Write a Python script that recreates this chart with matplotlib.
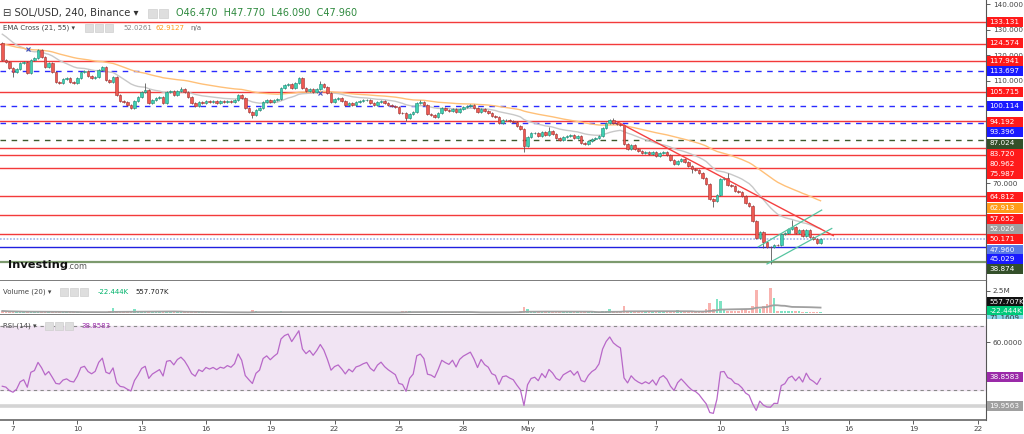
import matplotlib
matplotlib.use('Agg')
import matplotlib.pyplot as plt
from matplotlib.patches import Rectangle
from matplotlib.transforms import Bbox
import numpy as np

# ---------------- data ----------------
first_open = 124.70
closes = [
    # Apr 6 - Apr 18
    118.18, 117.52, 114.91, 113.60, 114.52, 116.87, 117.52, 112.95, 118.18, 118.83,
    122.09, 119.48, 115.56, 116.87, 113.60, 109.69, 109.30, 110.60, 110.99, 109.69,
    109.30, 110.99, 113.60, 114.00, 111.91, 110.99, 111.65, 114.26, 115.56, 110.34,
    109.69, 111.38, 104.46, 102.24, 101.85, 100.55, 99.50, 102.24, 103.81, 105.77,
    106.42, 101.20, 102.50, 103.16, 103.81, 101.20, 105.77, 106.03, 104.46, 106.16,
    106.94, 105.77, 103.81, 101.20, 100.15, 101.85, 101.20, 102.24, 101.72, 102.11,
    101.46, 101.98, 101.72, 102.24, 101.85, 102.50, 104.46, 103.16, 99.24, 97.93,
    96.63, 98.59, 99.24,
    # Apr 18 - May 1
    101.86, 102.52, 101.60, 102.39, 103.04, 107.09, 108.26, 108.78, 107.35, 109.05,
    111.00, 107.09, 105.91, 106.83, 105.65, 106.96, 108.78, 107.48, 105.13, 101.86,
    102.78, 103.17, 101.99, 100.43, 101.47, 100.69, 101.73, 101.99, 102.39, 102.65,
    101.34, 100.69, 101.73, 102.26, 101.34, 100.69, 100.17, 99.64, 97.55, 97.29,
    95.33, 97.16, 97.82, 101.21, 101.60, 100.69, 96.90, 96.64, 95.99, 97.42,
    99.25, 98.73, 98.34, 99.12, 97.68, 99.12, 99.77, 100.17, 100.56, 99.38,
    97.68, 99.12, 98.08, 97.55, 96.12, 95.73, 93.37, 94.55, 94.68, 94.16,
    93.77, 92.46, 91.15, 84.49,
    # May 1 - May 14
    88.15, 89.46, 89.72, 88.54, 89.98, 88.67, 90.37, 89.33, 87.63, 86.98,
    88.02, 88.41, 88.80, 87.63, 88.28, 85.80, 85.41, 86.45, 87.11, 87.50,
    88.41, 91.42, 93.38, 94.68, 93.64, 93.11, 92.72, 85.15, 83.19, 84.76,
    83.32, 82.41, 81.75, 82.14, 81.49, 82.14, 80.45, 81.75, 82.14, 81.10,
    78.88, 77.31, 78.62, 79.27, 78.10, 76.79, 75.61, 75.09, 73.92, 71.96,
    69.74, 63.60, 62.82, 65.30, 71.70, 71.83, 69.35, 68.69, 66.86, 66.34,
    64.77, 62.16, 60.86, 54.98, 48.45, 50.80, 47.01, 45.05, 44.79, 45.71,
    45.58, 50.02, 50.54, 52.11, 52.63, 50.54, 51.58, 49.23, 51.58, 48.97,
    47.93, 46.47, 47.96,
]
# notable wick extremes (candle index -> price)
wick_highs = {0: 125.4, 40: 109.3, 50: 107.7, 83: 111.4, 89: 110.1, 117: 102.6,
              153: 92.1, 171: 95.3, 203: 74.0, 221: 55.5}
wick_lows = {3: 111.6, 70: 95.3, 113: 94.3, 146: 82.3, 193: 74.0, 199: 60.7,
             213: 44.5, 215: 38.4}
volume_m = [
    .25, .20, .18, .20, .14, .12, .12, .16, .14, .12,
    .18, .14, .15, .10, .12, .16, .12, .09, .10, .10,
    .09, .10, .12, .10, .09, .10, .11, .10, .12, .14,
    .30, .55, .22, .25, .14, .12, .12, .44, .18, .15,
    .14, .18, .12, .10, .10, .14, .16, .12, .20, .10,
    .10, .12, .12, .14, .12, .10, .10, .09, .08, .08,
    .07, .08, .07, .08, .07, .08, .07, .10, .09, .14,
    .33, .30, .14, .12, .10, .10, .14, .12, .20, .14,
    .12, .16, .14, .12, .10, .10, .09, .10, .10, .12,
    .14, .12, .10, .09, .08, .10, .09, .08, .09, .08,
    .08, .08, .09, .08, .09, .10, .08, .08, .09, .10,
    .12, .14, .30, .28, .30, .14, .10, .12, .10, .12,
    .12, .10, .09, .10, .08, .09, .08, .10, .09, .08,
    .09, .10, .08, .09, .10, .12, .10, .12, .10, .14,
    .12, .12, .14, .18, .16, .22, .70, .44, .18, .14,
    .12, .14, .12, .10, .12, .10, .14, .12, .10, .12,
    .10, .09, .10, .12, .12, .14, .12, .16, .24, .26,
    .50, .22, .18, .16, .80, .30, .20, .16, .14, .14,
    .14, .12, .12, .14, .12, .12, .14, .18, .22, .33,
    .30, .18, .20, .22, .24, .20, .26, .44, 1.17, .50,
    1.54, 1.36, .40, .30, .28, .26, .30, .44, .44, .30,
    .80, 2.55, .45, .80, 1.00, 2.75, 1.65, .30, .26, .24,
    .22, .24, .20, .26, .16, .14, .12, .12, .10, .10,
]
last_bar_day = 37 + 16 / 24          # days after Apr 7 (May 14, 16:00)
ema_seed = (129.3, 124.7)            # EMA21 / EMA55 values at the left edge
rsi_seed = (1.0, 1.6)                # avg gain / avg loss at the left edge

red_levels = [133.131, 124.574, 117.941, 105.715, 94.192, 83.720, 80.962,
              75.987, 64.812, 57.652, 50.171]
blue_dashed_levels = [113.697, 100.114, 93.396]
green_dashed_levels = [87.024]
blue_levels = [45.029]
green_levels = [38.874]
last_price = 47.960
rsi_hline = 19.9563
price_ticks = [70, 110, 120, 130, 140]

trend_red = ([28.2, 38.26], [93.9, 49.4])
channel_low = ([35.17, 38.19], [38.3, 52.2])
channel_up = ([34.76, 37.72], [45.0, 59.4])
cross_marks = ([0.70, 14.32], [122.5, 105.45])

tick_days = list(range(0, 46, 3))
tick_labels = ['7', '10', '13', '16', '19', '22', '25', '28', 'May', '4', '7',
               '10', '13', '16', '19', '22']

# ---------------- derived series ----------------
N = len(closes)
t = np.array([last_bar_day - (N - 1 - i) / 6 for i in range(N)])
c = np.array(closes)
o = np.concatenate([[first_open], c[:-1]])
hi = np.maximum(o, c) + 0.4
lo = np.minimum(o, c) - 0.4
for k, v in wick_highs.items():
    hi[k] = v
for k, v in wick_lows.items():
    lo[k] = v
up = c >= o

def ema(vals, n, seed):
    a = 2 / (n + 1)
    out, e = [], seed
    for v in vals:
        e = e + a * (v - e)
        out.append(e)
    return np.array(out)

ema21 = ema(c, 21, ema_seed[0])
ema55 = ema(c, 55, ema_seed[1])

ag, al = rsi_seed
rsi = []
prev = first_open
for v in c:
    ch = v - prev
    prev = v
    ag = (ag * 13 + max(ch, 0)) / 14
    al = (al * 13 + max(-ch, 0)) / 14
    rsi.append(100 - 100 / (1 + ag / al))
rsi = np.array(rsi)

vol = np.array(volume_m)
vol_ma = np.array([vol[max(0, i - 19):i + 1].mean() for i in range(N)])

# ---------------- figure ----------------
W, H = 1024, 434
fig = plt.figure(figsize=(W / 100, H / 100), dpi=100)
fig.patch.set_facecolor('white')

def fx(px):
    return px / W

def fy(py):
    return 1 - py / H

PW = 985.7
ax = fig.add_axes([0, fy(281), PW / W, 281 / H])
axv = fig.add_axes([0, fy(315), PW / W, 34 / H])
axr = fig.add_axes([0, fy(420), PW / W, 105 / H])

xlim = (-0.606, 45.37)
for a in (ax, axv, axr):
    a.set_xlim(*xlim)
    a.set_facecolor('white')
    for s in ('top', 'left'):
        a.spines[s].set_visible(False)
    a.spines['right'].set_color('#555555')
    a.spines['bottom'].set_color('#666666')
    a.spines['bottom'].set_linewidth(1.2)
    a.yaxis.tick_right()

# ---- main price panel ----
ax.set_ylim(31.62, 141.68)
for lv in red_levels:
    ax.axhline(lv, color='#ff9090', lw=2.2, alpha=0.28, zorder=1)
    ax.axhline(lv, color='#f23a3a', lw=0.8, zorder=1.1)
for lv in blue_dashed_levels:
    ax.axhline(lv, color='#2a2aff', lw=1.0, dashes=(4, 4), zorder=1.1)
for lv in green_dashed_levels:
    ax.axhline(lv, color='#3d5a2e', lw=1.0, dashes=(4, 4), zorder=1.1)
for lv in blue_levels:
    ax.axhline(lv, color='#2020e0', lw=1.0, zorder=1.1)
for lv in green_levels:
    ax.axhline(lv, color='#7d9a6e', lw=1.6, zorder=1.1)
ax.axhline(last_price, color='#9fb4ea', lw=1.2, ls=(0, (1, 1)), zorder=1.1)

ax.plot(t, ema21, color='#c8c8c8', lw=1.0, zorder=2)
ax.plot(t, ema55, color='#ffc078', lw=1.0, zorder=2)

ax.vlines(t, lo, hi, color='#5a5a5a', lw=0.6, zorder=3)
body_h = np.maximum(np.abs(c - o), 0.15)
ax.bar(t[up], body_h[up], bottom=np.minimum(o, c)[up], width=0.12,
       color='#3fd0b2', edgecolor='#1c8f7a', linewidth=0.4, zorder=4)
ax.bar(t[~up], body_h[~up], bottom=np.minimum(o, c)[~up], width=0.12,
       color='#ee5a52', edgecolor='#a33030', linewidth=0.4, zorder=4)

ax.plot(*trend_red, color='#f44040', lw=1.0, zorder=5)
ax.plot(*channel_low, color='#55c4a0', lw=0.9, zorder=5)
ax.plot(*channel_up, color='#55c4a0', lw=0.9, zorder=5)
ax.plot(*cross_marks, ls='none', marker='x', ms=3, mew=0.8, color='#4050c0', zorder=6)

ax.set_yticks(price_ticks)
ax.set_yticklabels([f'{v:.3f}' for v in price_ticks])
ax.tick_params(axis='y', labelsize=5.2, colors='#444444', length=3, pad=2, width=0.6)
ax.tick_params(axis='x', bottom=False, labelbottom=False)

# ---- volume panel ----
axv.set_ylim(-0.2, 3.58)
axv.bar(t[up], vol[up], width=0.12, color='#7fe3c4', zorder=2)
axv.bar(t[~up], vol[~up], width=0.12, color='#f8b2ae', zorder=2)
axv.plot(t, vol_ma, color='#a0a0a0', lw=1.3, zorder=3)
axv.set_yticks([2.5])
axv.set_yticklabels(['2.5M'])
axv.tick_params(axis='y', labelsize=5.2, colors='#444444', length=3, pad=2, width=0.6)
axv.tick_params(axis='x', bottom=False, labelbottom=False)

# ---- RSI panel ----
axr.set_ylim(10.9, 77.25)
axr.axhspan(30, 70, color='#f1e4f3', zorder=0)
axr.axhline(70, color='#8a8a8a', lw=0.8, dashes=(3, 3), zorder=1)
axr.axhline(30, color='#8a8a8a', lw=0.8, dashes=(3, 3), zorder=1)
axr.axhline(rsi_hline, color='#d4d4d4', lw=2.6, zorder=1)
axr.plot(t, rsi, color='#b868c8', lw=0.9, zorder=3)
axr.set_yticks([60])
axr.set_yticklabels(['60.0000'])
axr.tick_params(axis='y', labelsize=5.2, colors='#444444', length=3, pad=2, width=0.6)
axr.set_xticks(tick_days)
axr.set_xticklabels(tick_labels)
axr.tick_params(axis='x', labelsize=5.2, colors='#444444', length=3, pad=1.5, width=0.6)

# ---------------- right-hand value labels ----------------
def tag(py, text, fc, tc='white', clip=None):
    r = Rectangle((fx(986.5), fy(py + 5)), 36 / W, 10 / H, transform=fig.transFigure,
                  fc=fc, ec='none', zorder=19)
    fig.patches.append(r)
    tx = fig.text(fx(989.5), fy(py), text, fontsize=5.2, color=tc, ha='left',
                  va='center', zorder=20)
    if clip is not None:
        r.set_clip_box(clip)
        r.set_clip_on(True)
        tx.set_clip_box(clip)
        tx.set_clip_on(True)
    return tx

RED, BLUE, DGREEN = '#ff1a1a', '#1a1aff', '#34502a'
main_tags = [
    (22.3, '133.131', RED), (42.7, '124.574', RED), (60.7, '117.941', RED),
    (71.0, '113.697', BLUE), (91.7, '105.715', RED), (106.0, '100.114', BLUE),
    (121.7, '94.192', RED), (131.7, '93.396', BLUE), (143.5, '87.024', DGREEN),
    (154.0, '83.720', RED), (164.3, '80.962', RED), (173.5, '75.987', RED),
    (196.7, '64.812', RED), (208.3, '62.913', '#ff9c1a'), (219.3, '57.652', RED),
    (229.3, '52.026', '#a0a0a0'), (239.3, '50.171', RED), (250.0, '47.960', '#5878e6'),
    (259.0, '45.029', BLUE), (269.3, '38.874', DGREEN),
]
for py, s, col in main_tags:
    tag(py, s, col)
tag(302.0, '557.707K', '#111111')
tag(311.0, '-22.444K', '#00c97a')
clipbox = Bbox([[0, fy(319) * H], [W, fy(314.5) * H]])
tag(318.5, '71.1609', '#86d9ea', tc='#333333', clip=clipbox)
tag(376.7, '38.8583', '#9a2aa8')
tag(406.0, '19.9563', '#a0a0a0')

# ---------------- legends / titles ----------------
def icons(x0, py, n, size=8.5, gap=2.2):
    for k in range(n):
        r = Rectangle((fx(x0 + k * (size + gap)), fy(py + size / 2)), size / W, size / H,
                      transform=fig.transFigure, fc='#dedede', ec='#cfcfcf', lw=0.5,
                      zorder=20)
        fig.patches.append(r)

fig.text(fx(3), fy(13), '\u229f SOL/USD, 240, Binance \u25be', fontsize=7.2,
         color='#333333', va='center', zorder=20)
icons(148, 13, 2, size=9)
fig.text(fx(176), fy(13), 'O46.470  H47.770  L46.090  C47.960', fontsize=7.0,
         color='#2f8a3f', va='center', zorder=20)

fig.text(fx(3), fy(28), 'EMA Cross (21, 55) \u25be', fontsize=5.0, color='#444444',
         va='center', zorder=20)
icons(85, 28, 3, size=8)
fig.text(fx(123), fy(28), '52.0261', fontsize=5.0, color='#8a8a8a', va='center', zorder=20)
fig.text(fx(155), fy(28), '62.9127', fontsize=5.0, color='#ff9c1a', va='center', zorder=20)
fig.text(fx(190), fy(28), 'n/a', fontsize=5.0, color='#666666', va='center', zorder=20)

fig.text(fx(8), fy(265), 'Investing', fontsize=8.2, weight='bold', color='#111111',
         va='center', zorder=20)
fig.text(fx(67), fy(266.5), '.com', fontsize=5.8, color='#555555', va='center', zorder=20)

fig.text(fx(3), fy(292), 'Volume (20) \u25be', fontsize=5.0, color='#444444',
         va='center', zorder=20)
icons(60, 292, 3, size=8)
fig.text(fx(98), fy(292), '-22.444K', fontsize=5.0, color='#00b36b', va='center', zorder=20)
fig.text(fx(135), fy(292), '557.707K', fontsize=5.0, color='#222222', va='center', zorder=20)

fig.text(fx(3), fy(326), 'RSI (14) \u25be', fontsize=5.0, color='#444444',
         va='center', zorder=20)
icons(45, 326, 3, size=8)
fig.text(fx(81), fy(326), '38.8583', fontsize=5.0, color='#9a2aa8', va='center', zorder=20)

fig.savefig('out.png', dpi=100, facecolor='white')
